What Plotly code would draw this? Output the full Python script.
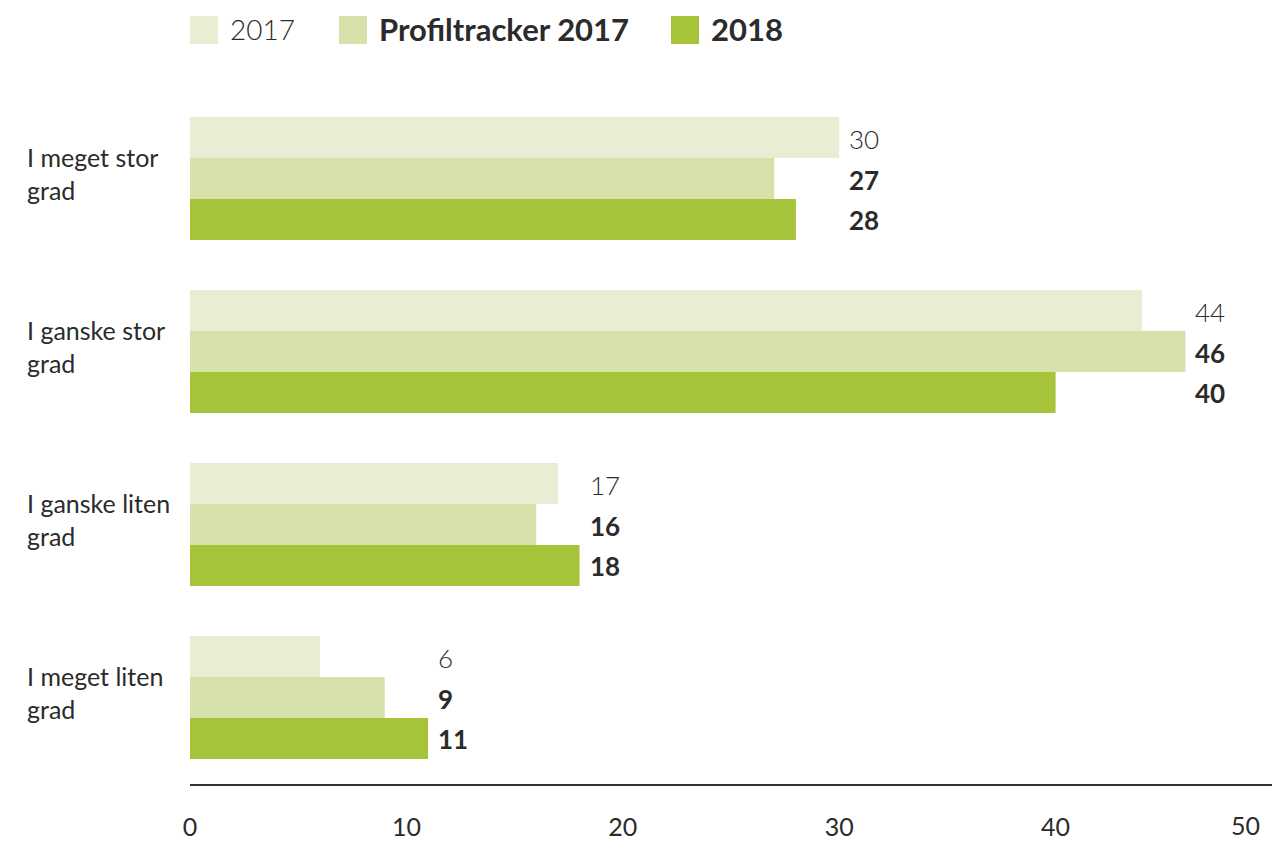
import plotly.graph_objects as go

categories = ["I meget stor<br>grad", "I ganske stor<br>grad", "I ganske liten<br>grad", "I meget liten<br>grad"]
series_names = ["2017", "Profiltracker 2017", "2018"]
values_2017 = [30, 44, 17, 6]
values_profil = [27, 46, 16, 9]
values_2018 = [28, 40, 18, 11]
x_ticks = [0, 10, 20, 30, 40, 50]

colors = ["#e7eed3", "#d6e2a9", "#a6c43a"]
all_values = [values_2017, values_profil, values_2018]
FONT = "Lato"
TXT = "#2b2b2b"

W, H = 1272, 841
L, R, T, B = 190, 0, 92, 57
pw, ph = W - L - R, H - T - B

fig = go.Figure()
for name, vals, col in zip(series_names, all_values, colors):
    fig.add_trace(go.Bar(y=categories, x=vals, name=name, orientation="h",
                         marker=dict(color=col, line=dict(width=0)),
                         showlegend=False, hoverinfo="skip"))

annotations = []
bar_px = (ph / len(categories)) * (1 - 0.29) / 3
shifts = [bar_px, 0, -bar_px]
for ci, cat in enumerate(categories):
    gmax = max(v[ci] for v in all_values)
    for si, vals in enumerate(all_values):
        annotations.append(dict(
            x=gmax, y=cat, xref="x", yref="y", text=str(vals[ci]) if si == 0 else f"<b>{vals[ci]}</b>",
            showarrow=False, xanchor="left", yanchor="middle", xshift=8, yshift=shifts[si] - 1,
            font=dict(family=FONT, size=26, color=TXT, weight=300 if si == 0 else 700)))
    annotations.append(dict(
        x=-(L - 25) / pw, y=cat, xref="paper", yref="y", text=cat, showarrow=False,
        xanchor="left", yanchor="middle", align="left", yshift=5,
        font=dict(family=FONT, size=25, color=TXT)))

# "50" tick label kept inside the canvas
annotations.append(dict(x=x_ticks[-1], y=0, xref="x", yref="paper", text=str(x_ticks[-1]),
                        showarrow=False, xanchor="right", yanchor="top", xshift=-10, yshift=-24,
                        font=dict(family=FONT, size=25, color=TXT)))

# manual legend
shapes = []
leg_x = [190, 339, 671]
for i, (name, col) in enumerate(zip(series_names, colors)):
    x0 = (leg_x[i] - L) / pw
    x1 = (leg_x[i] + 28 - L) / pw
    y0 = (H - B - 44) / ph
    y1 = (H - B - 16) / ph
    shapes.append(dict(type="rect", xref="paper", yref="paper", x0=x0, x1=x1, y0=y0, y1=y1,
                       fillcolor=col, line=dict(width=0)))
    annotations.append(dict(x=(leg_x[i] + 38 - L) / pw, y=(H - B - 29) / ph, xref="paper", yref="paper",
                            text=name if i == 0 else f"<b>{name}</b>", showarrow=False,
                            xanchor="left", yanchor="middle",
                            font=dict(family=FONT, size=28 if i == 0 else 31, color=TXT,
                                      weight=300 if i == 0 else 700)))

fig.update_layout(
    width=W, height=H, margin=dict(l=L, r=R, t=T, b=B, autoexpand=False),
    paper_bgcolor="white", plot_bgcolor="white",
    barmode="group", bargap=0.29, bargroupgap=0,
    xaxis=dict(range=[0, 50], tickvals=x_ticks[:-1], showgrid=False, zeroline=False,
               showline=True, linecolor="#333333", linewidth=2, automargin=False,
               ticks="outside", ticklen=20, tickcolor="rgba(0,0,0,0)",
               tickfont=dict(family=FONT, size=25, color=TXT), fixedrange=True),
    yaxis=dict(autorange="reversed", showticklabels=False, showgrid=False, zeroline=False,
               showline=False, fixedrange=True, automargin=False),
    annotations=annotations, shapes=shapes,
)

fig.write_html("out.html", config={"displayModeBar": False},
               post_script="document.body.style.margin='0';document.body.style.overflow='hidden';")
